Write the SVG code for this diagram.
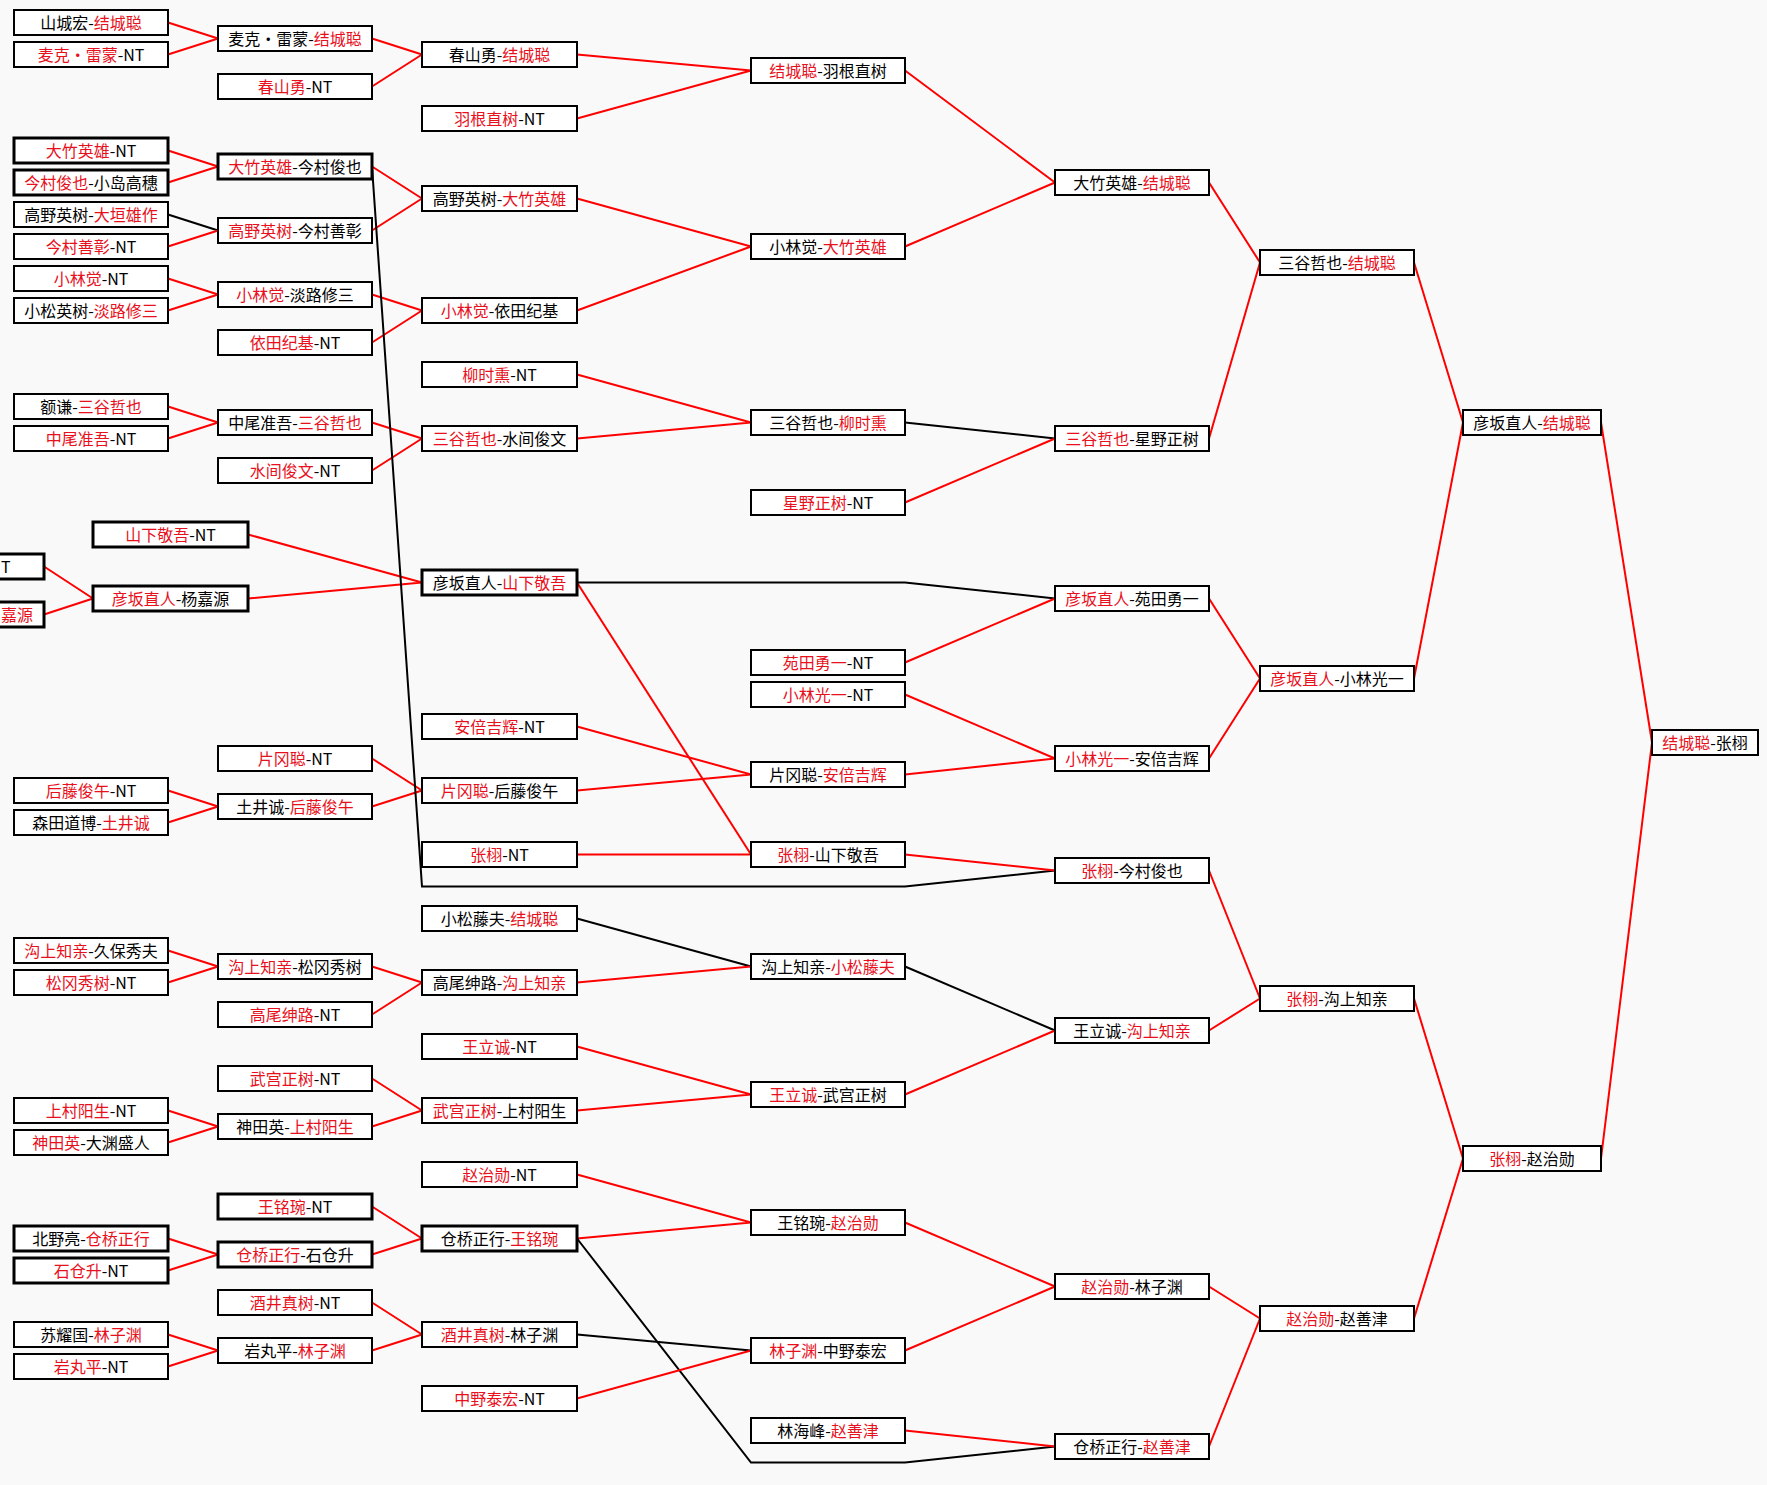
<svg xmlns="http://www.w3.org/2000/svg" width="1767" height="1485" viewBox="0 0 1767 1485">
<style>
.bg{fill:#f9f9f9}
.b{fill:#fff;stroke:#000;stroke-width:2}
.bt{fill:#fff;stroke:#000;stroke-width:3}
text{font-family:"Noto Sans CJK SC","Noto Sans",sans-serif;font-size:16px;fill:#000;text-anchor:middle}
.r{fill:#e8101c}
.lr{stroke:#f00;stroke-width:2;fill:none}
.lk{stroke:#000;stroke-width:2;fill:none}
</style>
<rect class="bg" x="0" y="0" width="1767" height="1485"/>
<g id="connectors">
<path class="lr" d="M168,22.5L218,38.5M168,54.5L218,38.5"/>
<path class="lr" d="M168,150.5L218,166.5M168,182.5L218,166.5"/>
<path class="lk" d="M168,214.5L218,230.5"/>
<path class="lr" d="M168,246.5L218,230.5"/>
<path class="lr" d="M168,278.5L218,294.5M168,310.5L218,294.5"/>
<path class="lr" d="M168,406.5L218,422.5M168,438.5L218,422.5"/>
<path class="lr" d="M44,566.5L93,598.5M44,614.5L93,598.5"/>
<path class="lr" d="M168,790.5L218,806.5M168,822.5L218,806.5"/>
<path class="lr" d="M168,950.5L218,966.5M168,982.5L218,966.5"/>
<path class="lr" d="M168,1110.5L218,1126.5M168,1142.5L218,1126.5"/>
<path class="lr" d="M168,1238.5L218,1254.5M168,1270.5L218,1254.5"/>
<path class="lr" d="M168,1334.5L218,1350.5M168,1366.5L218,1350.5"/>
<path class="lr" d="M372,38.5L422,54.5M372,86.5L422,54.5"/>
<path class="lr" d="M372,166.5L422,198.5M372,230.5L422,198.5"/>
<path class="lr" d="M372,294.5L422,310.5M372,342.5L422,310.5"/>
<path class="lr" d="M372,422.5L422,438.5M372,470.5L422,438.5"/>
<path class="lr" d="M248,534.5L422,582.5M248,598.5L422,582.5"/>
<path class="lr" d="M372,758.5L422,790.5M372,806.5L422,790.5"/>
<path class="lr" d="M372,966.5L422,982.5M372,1014.5L422,982.5"/>
<path class="lr" d="M372,1078.5L422,1110.5M372,1126.5L422,1110.5"/>
<path class="lr" d="M372,1206.5L422,1238.5M372,1254.5L422,1238.5"/>
<path class="lr" d="M372,1302.5L422,1334.5M372,1350.5L422,1334.5"/>
<path class="lk" d="M372,166.5L422,886.5L905,886.5L1055,870.5"/>
<path class="lr" d="M577,54.5L751,70.5M577,118.5L751,70.5"/>
<path class="lr" d="M577,198.5L751,246.5M577,310.5L751,246.5"/>
<path class="lr" d="M577,374.5L751,422.5M577,438.5L751,422.5"/>
<path class="lk" d="M577,582.5L905,582.5L1055,598.5"/>
<path class="lr" d="M577,582.5L751,854.5"/>
<path class="lr" d="M577,726.5L751,774.5M577,790.5L751,774.5"/>
<path class="lr" d="M577,854.5L751,854.5"/>
<path class="lk" d="M577,918.5L751,966.5"/>
<path class="lr" d="M577,982.5L751,966.5"/>
<path class="lr" d="M577,1046.5L751,1094.5M577,1110.5L751,1094.5"/>
<path class="lr" d="M577,1174.5L751,1222.5M577,1238.5L751,1222.5"/>
<path class="lk" d="M577,1238.5L751,1462.5L905,1462.5L1055,1446.5"/>
<path class="lk" d="M577,1334.5L751,1350.5"/>
<path class="lr" d="M577,1398.5L751,1350.5"/>
<path class="lr" d="M905,70.5L1055,182.5M905,246.5L1055,182.5"/>
<path class="lk" d="M905,422.5L1055,438.5"/>
<path class="lr" d="M905,502.5L1055,438.5"/>
<path class="lr" d="M905,662.5L1055,598.5"/>
<path class="lr" d="M905,694.5L1055,758.5M905,774.5L1055,758.5"/>
<path class="lr" d="M905,854.5L1055,870.5"/>
<path class="lk" d="M905,966.5L1055,1030.5"/>
<path class="lr" d="M905,1094.5L1055,1030.5"/>
<path class="lr" d="M905,1222.5L1055,1286.5M905,1350.5L1055,1286.5"/>
<path class="lr" d="M905,1430.5L1055,1446.5"/>
<path class="lr" d="M1209,182.5L1260,262.5M1209,438.5L1260,262.5"/>
<path class="lr" d="M1209,598.5L1260,678.5M1209,758.5L1260,678.5"/>
<path class="lr" d="M1209,870.5L1260,998.5M1209,1030.5L1260,998.5"/>
<path class="lr" d="M1209,1286.5L1260,1318.5M1209,1446.5L1260,1318.5"/>
<path class="lr" d="M1414,262.5L1463,422.5M1414,678.5L1463,422.5"/>
<path class="lr" d="M1414,998.5L1463,1158.5M1414,1318.5L1463,1158.5"/>
<path class="lr" d="M1601,422.5L1652,742.5M1601,1158.5L1652,742.5"/>
</g>
<g id="nodes">
<g id="p1"><rect class="bt" x="-110" y="554" width="154" height="25"/><text x="1" y="572.5" style="text-anchor:start">T</text></g>
<g id="p2"><rect class="bt" x="-110" y="602" width="154" height="25"/><text x="1" y="620.5" style="text-anchor:start" class="r">嘉源</text></g>
<g id="c1-0"><rect class="b" x="14" y="10" width="154" height="25"/><text x="91" y="28.5">山城宏-<tspan class="r">结城聪</tspan></text></g>
<g id="c1-1"><rect class="b" x="14" y="42" width="154" height="25"/><text x="91" y="60.5"><tspan class="r">麦克・雷蒙</tspan>-NT</text></g>
<g id="c1-4"><rect class="bt" x="14" y="138" width="154" height="25"/><text x="91" y="156.5"><tspan class="r">大竹英雄</tspan>-NT</text></g>
<g id="c1-5"><rect class="bt" x="14" y="170" width="154" height="25"/><text x="91" y="188.5"><tspan class="r">今村俊也</tspan>-小岛高穗</text></g>
<g id="c1-6"><rect class="b" x="14" y="202" width="154" height="25"/><text x="91" y="220.5">高野英树-<tspan class="r">大垣雄作</tspan></text></g>
<g id="c1-7"><rect class="b" x="14" y="234" width="154" height="25"/><text x="91" y="252.5"><tspan class="r">今村善彰</tspan>-NT</text></g>
<g id="c1-8"><rect class="b" x="14" y="266" width="154" height="25"/><text x="91" y="284.5"><tspan class="r">小林觉</tspan>-NT</text></g>
<g id="c1-9"><rect class="b" x="14" y="298" width="154" height="25"/><text x="91" y="316.5">小松英树-<tspan class="r">淡路修三</tspan></text></g>
<g id="c1-12"><rect class="b" x="14" y="394" width="154" height="25"/><text x="91" y="412.5">额谦-<tspan class="r">三谷哲也</tspan></text></g>
<g id="c1-13"><rect class="b" x="14" y="426" width="154" height="25"/><text x="91" y="444.5"><tspan class="r">中尾准吾</tspan>-NT</text></g>
<g id="c1-24"><rect class="b" x="14" y="778" width="154" height="25"/><text x="91" y="796.5"><tspan class="r">后藤俊午</tspan>-NT</text></g>
<g id="c1-25"><rect class="b" x="14" y="810" width="154" height="25"/><text x="91" y="828.5">森田道博-<tspan class="r">土井诚</tspan></text></g>
<g id="c1-29"><rect class="b" x="14" y="938" width="154" height="25"/><text x="91" y="956.5"><tspan class="r">沟上知亲</tspan>-久保秀夫</text></g>
<g id="c1-30"><rect class="b" x="14" y="970" width="154" height="25"/><text x="91" y="988.5"><tspan class="r">松冈秀树</tspan>-NT</text></g>
<g id="c1-34"><rect class="b" x="14" y="1098" width="154" height="25"/><text x="91" y="1116.5"><tspan class="r">上村阳生</tspan>-NT</text></g>
<g id="c1-35"><rect class="b" x="14" y="1130" width="154" height="25"/><text x="91" y="1148.5"><tspan class="r">神田英</tspan>-大渊盛人</text></g>
<g id="c1-38"><rect class="bt" x="14" y="1226" width="154" height="25"/><text x="91" y="1244.5">北野亮-<tspan class="r">仓桥正行</tspan></text></g>
<g id="c1-39"><rect class="bt" x="14" y="1258" width="154" height="25"/><text x="91" y="1276.5"><tspan class="r">石仓升</tspan>-NT</text></g>
<g id="c1-41"><rect class="b" x="14" y="1322" width="154" height="25"/><text x="91" y="1340.5">苏耀国-<tspan class="r">林子渊</tspan></text></g>
<g id="c1-42"><rect class="b" x="14" y="1354" width="154" height="25"/><text x="91" y="1372.5"><tspan class="r">岩丸平</tspan>-NT</text></g>
<g id="cx-16"><rect class="bt" x="93" y="522" width="155" height="25"/><text x="170.5" y="540.5"><tspan class="r">山下敬吾</tspan>-NT</text></g>
<g id="cx-18"><rect class="bt" x="93" y="586" width="155" height="25"/><text x="170.5" y="604.5"><tspan class="r">彦坂直人</tspan>-杨嘉源</text></g>
<g id="c2-0"><rect class="b" x="218" y="26" width="154" height="25"/><text x="295" y="44.5">麦克・雷蒙-<tspan class="r">结城聪</tspan></text></g>
<g id="c2-2"><rect class="b" x="218" y="74" width="154" height="25"/><text x="295" y="92.5"><tspan class="r">春山勇</tspan>-NT</text></g>
<g id="c2-4"><rect class="bt" x="218" y="154" width="154" height="25"/><text x="295" y="172.5"><tspan class="r">大竹英雄</tspan>-今村俊也</text></g>
<g id="c2-6"><rect class="b" x="218" y="218" width="154" height="25"/><text x="295" y="236.5"><tspan class="r">高野英树</tspan>-今村善彰</text></g>
<g id="c2-8"><rect class="b" x="218" y="282" width="154" height="25"/><text x="295" y="300.5"><tspan class="r">小林觉</tspan>-淡路修三</text></g>
<g id="c2-10"><rect class="b" x="218" y="330" width="154" height="25"/><text x="295" y="348.5"><tspan class="r">依田纪基</tspan>-NT</text></g>
<g id="c2-12"><rect class="b" x="218" y="410" width="154" height="25"/><text x="295" y="428.5">中尾准吾-<tspan class="r">三谷哲也</tspan></text></g>
<g id="c2-14"><rect class="b" x="218" y="458" width="154" height="25"/><text x="295" y="476.5"><tspan class="r">水间俊文</tspan>-NT</text></g>
<g id="c2-23"><rect class="b" x="218" y="746" width="154" height="25"/><text x="295" y="764.5"><tspan class="r">片冈聪</tspan>-NT</text></g>
<g id="c2-24"><rect class="b" x="218" y="794" width="154" height="25"/><text x="295" y="812.5">土井诚-<tspan class="r">后藤俊午</tspan></text></g>
<g id="c2-29"><rect class="b" x="218" y="954" width="154" height="25"/><text x="295" y="972.5"><tspan class="r">沟上知亲</tspan>-松冈秀树</text></g>
<g id="c2-31"><rect class="b" x="218" y="1002" width="154" height="25"/><text x="295" y="1020.5"><tspan class="r">高尾绅路</tspan>-NT</text></g>
<g id="c2-33"><rect class="b" x="218" y="1066" width="154" height="25"/><text x="295" y="1084.5"><tspan class="r">武宫正树</tspan>-NT</text></g>
<g id="c2-34"><rect class="b" x="218" y="1114" width="154" height="25"/><text x="295" y="1132.5">神田英-<tspan class="r">上村阳生</tspan></text></g>
<g id="c2-37"><rect class="bt" x="218" y="1194" width="154" height="25"/><text x="295" y="1212.5"><tspan class="r">王铭琬</tspan>-NT</text></g>
<g id="c2-38"><rect class="bt" x="218" y="1242" width="154" height="25"/><text x="295" y="1260.5"><tspan class="r">仓桥正行</tspan>-石仓升</text></g>
<g id="c2-40"><rect class="b" x="218" y="1290" width="154" height="25"/><text x="295" y="1308.5"><tspan class="r">酒井真树</tspan>-NT</text></g>
<g id="c2-41"><rect class="b" x="218" y="1338" width="154" height="25"/><text x="295" y="1356.5">岩丸平-<tspan class="r">林子渊</tspan></text></g>
<g id="c3-1"><rect class="b" x="422" y="42" width="155" height="25"/><text x="499.5" y="60.5">春山勇-<tspan class="r">结城聪</tspan></text></g>
<g id="c3-3"><rect class="b" x="422" y="106" width="155" height="25"/><text x="499.5" y="124.5"><tspan class="r">羽根直树</tspan>-NT</text></g>
<g id="c3-5"><rect class="b" x="422" y="186" width="155" height="25"/><text x="499.5" y="204.5">高野英树-<tspan class="r">大竹英雄</tspan></text></g>
<g id="c3-9"><rect class="b" x="422" y="298" width="155" height="25"/><text x="499.5" y="316.5"><tspan class="r">小林觉</tspan>-依田纪基</text></g>
<g id="c3-11"><rect class="b" x="422" y="362" width="155" height="25"/><text x="499.5" y="380.5"><tspan class="r">柳时熏</tspan>-NT</text></g>
<g id="c3-13"><rect class="b" x="422" y="426" width="155" height="25"/><text x="499.5" y="444.5"><tspan class="r">三谷哲也</tspan>-水间俊文</text></g>
<g id="c3-17"><rect class="bt" x="422" y="570" width="155" height="25"/><text x="499.5" y="588.5">彦坂直人-<tspan class="r">山下敬吾</tspan></text></g>
<g id="c3-22"><rect class="b" x="422" y="714" width="155" height="25"/><text x="499.5" y="732.5"><tspan class="r">安倍吉辉</tspan>-NT</text></g>
<g id="c3-24"><rect class="b" x="422" y="778" width="155" height="25"/><text x="499.5" y="796.5"><tspan class="r">片冈聪</tspan>-后藤俊午</text></g>
<g id="c3-26"><rect class="b" x="422" y="842" width="155" height="25"/><text x="499.5" y="860.5"><tspan class="r">张栩</tspan>-NT</text></g>
<g id="c3-28"><rect class="b" x="422" y="906" width="155" height="25"/><text x="499.5" y="924.5">小松藤夫-<tspan class="r">结城聪</tspan></text></g>
<g id="c3-30"><rect class="b" x="422" y="970" width="155" height="25"/><text x="499.5" y="988.5">高尾绅路-<tspan class="r">沟上知亲</tspan></text></g>
<g id="c3-32"><rect class="b" x="422" y="1034" width="155" height="25"/><text x="499.5" y="1052.5"><tspan class="r">王立诚</tspan>-NT</text></g>
<g id="c3-34"><rect class="b" x="422" y="1098" width="155" height="25"/><text x="499.5" y="1116.5"><tspan class="r">武宫正树</tspan>-上村阳生</text></g>
<g id="c3-36"><rect class="b" x="422" y="1162" width="155" height="25"/><text x="499.5" y="1180.5"><tspan class="r">赵治勋</tspan>-NT</text></g>
<g id="c3-38"><rect class="bt" x="422" y="1226" width="155" height="25"/><text x="499.5" y="1244.5">仓桥正行-<tspan class="r">王铭琬</tspan></text></g>
<g id="c3-41"><rect class="b" x="422" y="1322" width="155" height="25"/><text x="499.5" y="1340.5"><tspan class="r">酒井真树</tspan>-林子渊</text></g>
<g id="c3-43"><rect class="b" x="422" y="1386" width="155" height="25"/><text x="499.5" y="1404.5"><tspan class="r">中野泰宏</tspan>-NT</text></g>
<g id="c4-1"><rect class="b" x="751" y="58" width="154" height="25"/><text x="828" y="76.5"><tspan class="r">结城聪</tspan>-羽根直树</text></g>
<g id="c4-7"><rect class="b" x="751" y="234" width="154" height="25"/><text x="828" y="252.5">小林觉-<tspan class="r">大竹英雄</tspan></text></g>
<g id="c4-12"><rect class="b" x="751" y="410" width="154" height="25"/><text x="828" y="428.5">三谷哲也-<tspan class="r">柳时熏</tspan></text></g>
<g id="c4-15"><rect class="b" x="751" y="490" width="154" height="25"/><text x="828" y="508.5"><tspan class="r">星野正树</tspan>-NT</text></g>
<g id="c4-20"><rect class="b" x="751" y="650" width="154" height="25"/><text x="828" y="668.5"><tspan class="r">苑田勇一</tspan>-NT</text></g>
<g id="c4-21"><rect class="b" x="751" y="682" width="154" height="25"/><text x="828" y="700.5"><tspan class="r">小林光一</tspan>-NT</text></g>
<g id="c4-23"><rect class="b" x="751" y="762" width="154" height="25"/><text x="828" y="780.5">片冈聪-<tspan class="r">安倍吉辉</tspan></text></g>
<g id="c4-26"><rect class="b" x="751" y="842" width="154" height="25"/><text x="828" y="860.5"><tspan class="r">张栩</tspan>-山下敬吾</text></g>
<g id="c4-29"><rect class="b" x="751" y="954" width="154" height="25"/><text x="828" y="972.5">沟上知亲-<tspan class="r">小松藤夫</tspan></text></g>
<g id="c4-33"><rect class="b" x="751" y="1082" width="154" height="25"/><text x="828" y="1100.5"><tspan class="r">王立诚</tspan>-武宫正树</text></g>
<g id="c4-37"><rect class="b" x="751" y="1210" width="154" height="25"/><text x="828" y="1228.5">王铭琬-<tspan class="r">赵治勋</tspan></text></g>
<g id="c4-41"><rect class="b" x="751" y="1338" width="154" height="25"/><text x="828" y="1356.5"><tspan class="r">林子渊</tspan>-中野泰宏</text></g>
<g id="c4-44"><rect class="b" x="751" y="1418" width="154" height="25"/><text x="828" y="1436.5">林海峰-<tspan class="r">赵善津</tspan></text></g>
<g id="c5-5"><rect class="b" x="1055" y="170" width="154" height="25"/><text x="1132" y="188.5">大竹英雄-<tspan class="r">结城聪</tspan></text></g>
<g id="c5-13"><rect class="b" x="1055" y="426" width="154" height="25"/><text x="1132" y="444.5"><tspan class="r">三谷哲也</tspan>-星野正树</text></g>
<g id="c5-18"><rect class="b" x="1055" y="586" width="154" height="25"/><text x="1132" y="604.5"><tspan class="r">彦坂直人</tspan>-苑田勇一</text></g>
<g id="c5-23"><rect class="b" x="1055" y="746" width="154" height="25"/><text x="1132" y="764.5"><tspan class="r">小林光一</tspan>-安倍吉辉</text></g>
<g id="c5-26"><rect class="b" x="1055" y="858" width="154" height="25"/><text x="1132" y="876.5"><tspan class="r">张栩</tspan>-今村俊也</text></g>
<g id="c5-31"><rect class="b" x="1055" y="1018" width="154" height="25"/><text x="1132" y="1036.5">王立诚-<tspan class="r">沟上知亲</tspan></text></g>
<g id="c5-39"><rect class="b" x="1055" y="1274" width="154" height="25"/><text x="1132" y="1292.5"><tspan class="r">赵治勋</tspan>-林子渊</text></g>
<g id="c5-44"><rect class="b" x="1055" y="1434" width="154" height="25"/><text x="1132" y="1452.5">仓桥正行-<tspan class="r">赵善津</tspan></text></g>
<g id="c6-7"><rect class="b" x="1260" y="250" width="154" height="25"/><text x="1337" y="268.5">三谷哲也-<tspan class="r">结城聪</tspan></text></g>
<g id="c6-20"><rect class="b" x="1260" y="666" width="154" height="25"/><text x="1337" y="684.5"><tspan class="r">彦坂直人</tspan>-小林光一</text></g>
<g id="c6-30"><rect class="b" x="1260" y="986" width="154" height="25"/><text x="1337" y="1004.5"><tspan class="r">张栩</tspan>-沟上知亲</text></g>
<g id="c6-40"><rect class="b" x="1260" y="1306" width="154" height="25"/><text x="1337" y="1324.5"><tspan class="r">赵治勋</tspan>-赵善津</text></g>
<g id="c7-12"><rect class="b" x="1463" y="410" width="138" height="25"/><text x="1532" y="428.5">彦坂直人-<tspan class="r">结城聪</tspan></text></g>
<g id="c7-35"><rect class="b" x="1463" y="1146" width="138" height="25"/><text x="1532" y="1164.5"><tspan class="r">张栩</tspan>-赵治勋</text></g>
<g id="c8-22"><rect class="b" x="1652" y="730" width="106" height="25"/><text x="1705" y="748.5"><tspan class="r">结城聪</tspan>-张栩</text></g>
</g>
</svg>
